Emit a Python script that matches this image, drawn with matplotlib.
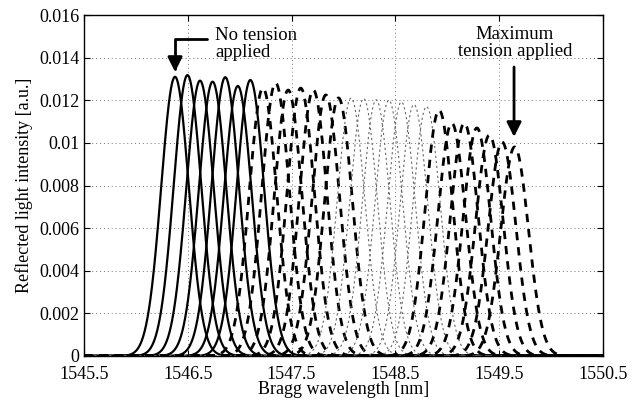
import numpy as np
import matplotlib
matplotlib.use("Agg")
import matplotlib.pyplot as plt

plt.rcParams['font.family'] = ['Liberation Serif', 'DejaVu Serif']

# Bragg peak centres [nm] and peak intensities [a.u.], grouped by line style
solid_centres = [1546.377, 1546.497, 1546.618, 1546.739, 1546.861, 1546.982, 1547.103]
solid_heights = [0.01310, 0.01318, 0.01292, 0.01287, 0.01308, 0.01267, 0.01295]

dashed_centres = [1547.224, 1547.346, 1547.467, 1547.588, 1547.709, 1547.830, 1547.952]
dashed_heights = [0.01257, 0.01281, 0.01248, 0.01257, 0.01248, 0.01225, 0.01211]

dotted_centres = [1548.073, 1548.194, 1548.315, 1548.437, 1548.558, 1548.679, 1548.800]
dotted_heights = [0.01210, 0.01208, 0.01202, 0.01200, 0.01192, 0.01180, 0.01170]

dashed2_centres = [1548.921, 1549.043, 1549.164, 1549.285, 1549.406, 1549.528, 1549.649]
dashed2_heights = [0.01154, 0.01093, 0.01093, 0.01070, 0.01037, 0.01004, 0.00981]

peak_sigma = 0.133

x_ticks = [1545.5, 1546.5, 1547.5, 1548.5, 1549.5, 1550.5]
x_labels = ['1545.5', '1546.5', '1547.5', '1548.5', '1549.5', '1550.5']
y_ticks = [0, 0.002, 0.004, 0.006, 0.008, 0.01, 0.012, 0.014, 0.016]
y_labels = ['0', '0.002', '0.004', '0.006', '0.008', '0.01', '0.012', '0.014', '0.016']

wl = np.linspace(1545.5, 1550.5, 2000)


def spectrum(centre, height):
    return height * np.exp(-0.5 * ((wl - centre) / peak_sigma) ** 2)


fig = plt.figure(figsize=(6.32, 4.0), dpi=100)
ax = fig.add_axes([0.1329, 0.11, 0.8212, 0.8525])

for c, h in zip(solid_centres, solid_heights):
    ax.plot(wl, spectrum(c, h), color='k', lw=1.6)
for c, h in zip(dashed_centres, dashed_heights):
    ax.plot(wl, spectrum(c, h), color='k', lw=2.0, dashes=(3, 2.5))
for c, h in zip(dotted_centres, dotted_heights):
    ax.plot(wl, spectrum(c, h), color='0.4', lw=0.8, dashes=(2, 2.5))
for c, h in zip(dashed2_centres, dashed2_heights):
    ax.plot(wl, spectrum(c, h), color='k', lw=2.0, dashes=(3, 2.5))

ax.set_xlim(1545.5, 1550.5)
ax.set_ylim(0, 0.016)
ax.set_xticks(x_ticks)
ax.set_xticklabels(x_labels)
ax.set_yticks(y_ticks)
ax.set_yticklabels(y_labels)
ax.tick_params(direction='in', top=True, right=True, labelsize=13, length=4, width=0.8)
ax.tick_params(axis='x', pad=7)
ax.grid(True, color='0.45', linestyle=(0, (1, 3)), linewidth=0.7)
ax.set_axisbelow(True)
for s in ax.spines.values():
    s.set_linewidth(1.0)

ax.set_xlabel('Bragg wavelength [nm]', fontsize=13, labelpad=-1)
ax.set_ylabel('Reflected light intensity [a.u.]', fontsize=13, labelpad=4)

ax.annotate('', xy=(1546.377, 0.01333), xytext=(1546.685, 0.01487),
            arrowprops=dict(arrowstyle='-|>', color='k', lw=2, mutation_scale=22,
                            shrinkA=0, shrinkB=0,
                            connectionstyle='angle,angleA=0,angleB=90,rad=0'))
ax.text(1546.762, 0.01464, 'No tension\napplied', fontsize=13.5,
        ha='left', va='center', linespacing=1.0)

ax.annotate('', xy=(1549.643, 0.01028), xytext=(1549.643, 0.01356),
            arrowprops=dict(arrowstyle='-|>', color='k', lw=2, mutation_scale=22,
                            shrinkA=0, shrinkB=0))
ax.text(1549.652, 0.01469, 'Maximum\ntension applied', fontsize=13.5,
        ha='center', va='center', linespacing=1.0)

fig.savefig('out.png', dpi=100)
